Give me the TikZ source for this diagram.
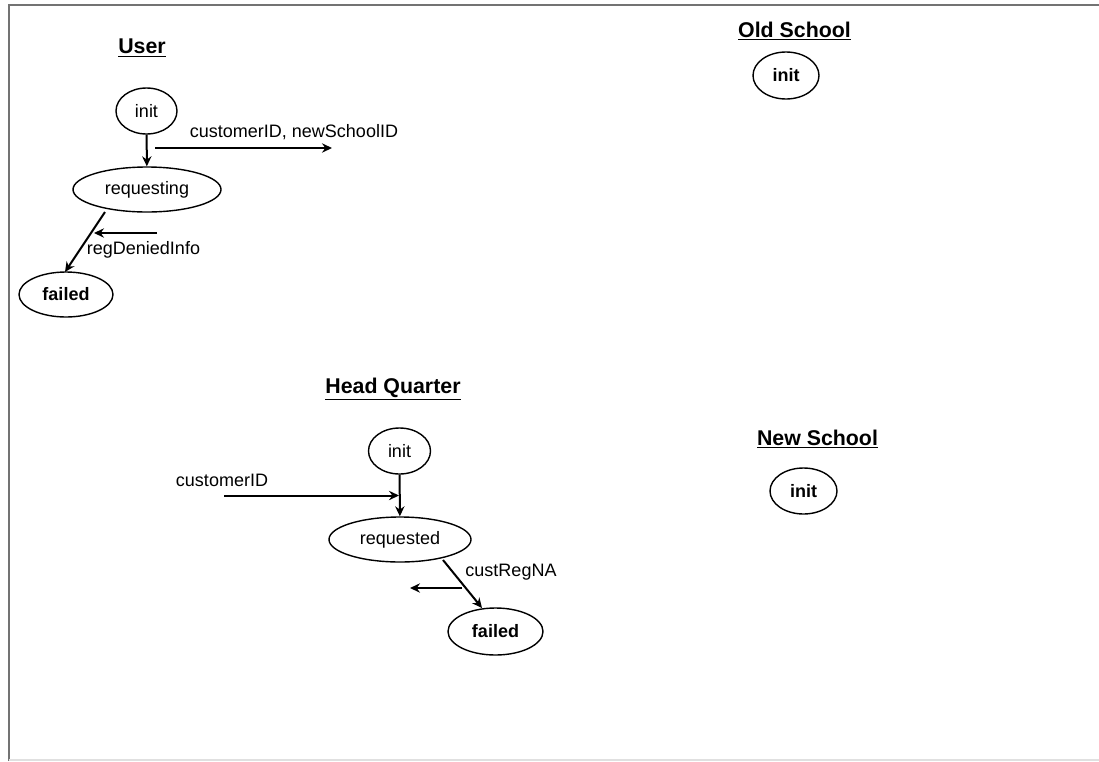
\documentclass[tikz,border=0pt]{standalone}
\usepackage{fontspec}
\setmainfont{Liberation Sans}
\usetikzlibrary{arrows.meta,shapes.geometric}
\begin{document}
\begin{tikzpicture}[x=0.75pt,y=-0.75pt,
  state/.style={draw,ellipse,line width=1.05pt,inner sep=0pt,font=\fontsize{13.5}{15}\selectfont},
  final/.style={state,font=\fontsize{13.5}{15}\selectfont\bfseries},
  title/.style={font=\fontsize{16}{18}\selectfont\bfseries,inner sep=0pt},
  lbl/.style={font=\fontsize{13.5}{15}\selectfont,inner sep=0pt},
  msg/.style={line width=1.5pt,-{Stealth[length=7.5pt,width=7pt,inset=2.5pt]}}]
% page area and frame
\useasboundingbox (0,0) rectangle (1099,761);
\fill[white] (0,0) rectangle (1099,761);
\draw[line width=1.5pt,black!55] (8.5,761) -- (8.5,5) -- (1099,5);
\draw[line width=0.8pt,black!12] (8.5,760) -- (1099,760);

% ---- User ----
\node[title] (utitle) at (142,48) {\underline{User}};
\node[state,minimum width=45.75pt,minimum height=34.5pt] (uinit) at (146.5,111) {};
\node[lbl] at (uinit) {init};
\node[state,minimum width=111pt,minimum height=33.75pt] (ureq) at (147,189.5) {};
\node[lbl] at (ureq) {requesting};
\node[final,minimum width=70.5pt,minimum height=33.75pt] (ufail) at (66,294.5) {failed};
\draw[msg] (uinit) -- (ureq);
\coordinate (ureqA) at (105,212);
\coordinate (ufailA) at (65,272);
\draw[msg] (ureqA) -- (ufailA);
\coordinate (uoutS) at (155,148);
\coordinate (uoutE) at (332,148);
\draw[msg] (uoutS) -- (uoutE);
\node[lbl] (ulab1) at (294,132) {customerID, newSchoolID};
\coordinate (uinS) at (157,233);
\coordinate (uinE) at (94,233);
\draw[msg] (uinS) -- (uinE);
\node[lbl] (ulab2) at (143.5,250) {regDeniedInfo};

% ---- Old School ----
\node[title] (otitle) at (794.5,31) {\underline{Old School}};
\node[final,minimum width=49.5pt,minimum height=35.25pt] (oinit) at (786,75.5) {init};

% ---- Head Quarter ----
\node[title] (htitle) at (393,389) {\underline{Head Quarter}};
\node[state,minimum width=46.5pt,minimum height=34.5pt] (hinit) at (399.5,451) {};
\node[lbl] at (hinit) {init};
\node[state,minimum width=106.5pt,minimum height=33.75pt] (hreq) at (400,539.5) {};
\node[lbl] at (hreq) {requested};
\node[final,minimum width=71.25pt,minimum height=35.25pt] (hfail) at (495.5,631.5) {failed};
\draw[msg] (hinit) -- (hreq);
\coordinate (hreqA) at (443,560);
\coordinate (hfailA) at (482,608);
\draw[msg] (hreqA) -- (hfailA);
\coordinate (hinS) at (224,495.5);
\coordinate (hinE) at (399,495.5);
\draw[msg] (hinS) -- (hinE);
\node[lbl] (hlab1) at (222,480) {customerID};
\coordinate (houtS) at (462,588);
\coordinate (houtE) at (410,588);
\draw[msg] (houtS) -- (houtE);
\node[lbl] (hlab2) at (511,572) {custRegNA};

% ---- New School ----
\node[title] (ntitle) at (817.5,439) {\underline{New School}};
\node[final,minimum width=50.25pt,minimum height=34.5pt] (ninit) at (803.5,491) {init};
\end{tikzpicture}
\end{document}
